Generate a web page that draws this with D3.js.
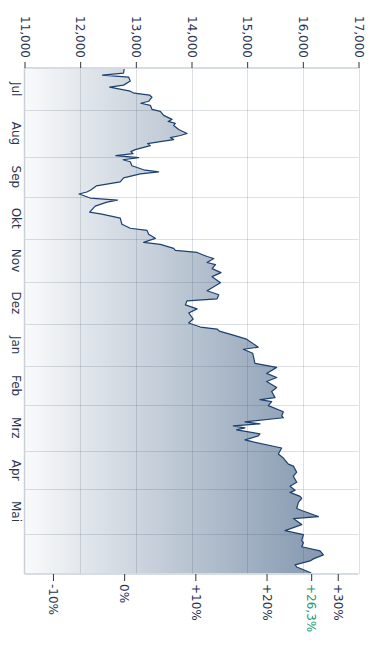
<!DOCTYPE html>
<html>
<head>
<meta charset="utf-8">
<script src="https://cdn.jsdelivr.net/npm/d3@7"></script>
<style>
  html, body { margin: 0; padding: 0; background: #ffffff; }
  svg { display: block; font-family: "DejaVu Sans", Verdana, sans-serif; }
</style>
</head>
<body>
<svg id="chart" width="370" height="650"></svg>
<script>
// ---------- data ----------
const months = ["Jul", "Aug", "Sep", "Okt", "Nov", "Dez", "Jan", "Feb", "Mrz", "Apr", "Mai", "Jun"];
const monthFirstDay = [0, 21, 44, 64, 85, 106, 127, 148, 167, 190, 209, 231];
const totalDays = 251;
const valueTicks = [11000, 12000, 13000, 14000, 15000, 16000, 17000];
const pctTicks = [-0.1, 0, 0.1, 0.2, 0.3];

const dayIndex = [
  0, 2, 3, 4, 6, 8, 9, 11, 12, 13, 14, 16, 17, 18, 20, 21, 23, 25, 26, 27,
  28, 30, 32, 33, 34, 35, 36, 37, 38, 40, 41, 42, 43, 44, 45, 46, 48, 50, 51, 52,
  54, 56, 58, 60, 61, 62, 64, 65, 66, 68, 71, 72, 74, 77, 79, 80, 82, 84, 86, 87,
  89, 90, 91, 93, 94, 96, 97, 99, 101, 103, 106, 109, 110, 112, 114, 115, 117, 119, 121, 124,
  126, 128, 129, 130, 132, 134, 138, 139, 141, 146, 148, 151, 153, 155, 158, 160, 163, 164, 165, 167,
  170, 172, 173, 175, 176, 177, 178, 179, 181, 182, 184, 185, 188, 191, 193, 196, 197, 200, 202, 205,
  207, 209, 210, 212, 213, 215, 218, 219, 222, 223, 226, 229, 231, 234, 235, 237, 239, 241, 243, 244,
  246, 247, 248, 250
];
const closeValues = [
  12790, 12780, 12400, 12870, 12900, 12780, 12530, 12900, 12970, 13250, 13290, 13230, 13090, 13260, 13290, 13440, 13500, 13650, 13580, 13710,
  13680, 13770, 13920, 13800, 13620, 13680, 13440, 13210, 13260, 12990, 12910, 12950, 12640, 13050, 12770, 12900, 12930, 13140, 13410, 13080,
  12780, 12720, 12290, 12190, 12120, 11980, 12180, 12670, 12480, 12270, 12170, 12390, 12720, 12750, 12900, 13200, 13230, 13350, 13140, 13440,
  13680, 13710, 14100, 14280, 14400, 14280, 14430, 14370, 14530, 14370, 14520, 14340, 14280, 14490, 14460, 13920, 13890, 14100, 13950, 14030,
  13950, 14160, 14460, 14500, 14750, 14990, 15200, 14930, 15100, 15140, 15530, 15350, 15530, 15350, 15530, 15440, 15500, 15230, 15440, 15380,
  15650, 15620, 15650, 14960, 15230, 14750, 14960, 14810, 15230, 15200, 14960, 15110, 15620, 15560, 15650, 15740, 15830, 15890, 15830, 15890,
  15770, 15860, 15770, 15950, 15980, 15920, 15890, 15980, 16280, 15830, 15980, 15680, 16010, 15980, 16010, 15980, 16310, 16370, 16190, 16130,
  15860, 15890, 15980, 16150
];

// ---------- setup ----------
const de = d3.formatLocale({ decimal: ",", thousands: ".", grouping: [3], currency: ["", " €"], minus: "-" });
const fmtValue = de.format(",.3f");
const fmtPct = de.format("+.0%");
const fmtPctLast = de.format("+.1%");

const data = dayIndex.map((d, i) => ({ day: d, value: closeValues[i] }));
const baseValue = closeValues[0];
const lastValue = closeValues[closeValues.length - 1];

const plotLeft = 24.5, plotRight = 358.5, plotTop = 68, plotBottom = 574;
const x = d3.scaleLinear().domain([valueTicks[0], valueTicks[valueTicks.length - 1]]).range([plotLeft, plotRight]);
const y = d3.scaleLinear().domain([-0.5, totalDays - 0.5]).range([plotTop, plotBottom]);

const svg = d3.select("#chart");
const textColor = "#2a3550";
const fontFamily = "DejaVu Sans, Verdana, sans-serif";

// gradient
const defs = svg.append("defs");
const grad = defs.append("linearGradient")
  .attr("id", "areaGrad").attr("gradientUnits", "userSpaceOnUse")
  .attr("x1", plotLeft).attr("x2", plotRight).attr("y1", 0).attr("y2", 0);
grad.append("stop").attr("offset", "0%").attr("stop-color", "#f9fafb");
grad.append("stop").attr("offset", "100%").attr("stop-color", "#768ca6");

// area
const area = d3.area()
  .y(d => y(d.day))
  .x0(x(valueTicks[0]))
  .x1(d => x(d.value));
svg.append("path").datum(data).attr("d", area).attr("fill", "url(#areaGrad)");

// grid
const grid = svg.append("g").attr("stroke", "rgba(40,60,90,0.16)").attr("stroke-width", 1);
grid.selectAll("line.v").data(valueTicks.slice(1)).join("line")
  .attr("x1", d => Math.round(x(d)) + 0.5).attr("x2", d => Math.round(x(d)) + 0.5)
  .attr("y1", plotTop).attr("y2", plotBottom);
grid.selectAll("line.h").data(monthFirstDay.slice(1)).join("line")
  .attr("x1", plotLeft).attr("x2", plotRight)
  .attr("y1", d => Math.round(y(d - 0.5)) + 0.5).attr("y2", d => Math.round(y(d - 0.5)) + 0.5);

// line
const line = d3.line().y(d => y(d.day)).x(d => x(d.value));
svg.append("path").datum(data).attr("d", line)
  .attr("fill", "none").attr("stroke", "#1c406f").attr("stroke-width", 1.2)
  .attr("stroke-linejoin", "round");

// frame
const frame = svg.append("g").attr("stroke", "#c9d0d8").attr("stroke-width", 1.5).attr("fill", "none");
frame.append("line").attr("x1", plotLeft).attr("x2", plotRight).attr("y1", plotTop).attr("y2", plotTop);
frame.append("line").attr("x1", plotLeft).attr("x2", plotRight).attr("y1", plotBottom).attr("y2", plotBottom);
frame.append("line").attr("x1", plotLeft).attr("x2", plotLeft).attr("y1", plotTop).attr("y2", plotBottom);

// top value axis
const topAxis = svg.append("g").attr("transform", `translate(0,${plotTop})`)
  .call(d3.axisTop(x).tickValues(valueTicks).tickSize(6).tickFormat(d => fmtValue(d / 1000)))
  .attr("font-family", fontFamily).attr("font-size", 12);
topAxis.select(".domain").remove();
topAxis.selectAll(".tick line").attr("stroke", "#333");
topAxis.selectAll(".tick text")
  .attr("x", -10).attr("y", 0).attr("dy", "0.36em")
  .attr("transform", "rotate(90)")
  .style("text-anchor", "end")
  .attr("fill", textColor);

// bottom percent axis
const pctEntries = pctTicks.map(p => ({ v: baseValue * (1 + p), label: p === 0 ? "0%" : fmtPct(p), color: textColor }));
pctEntries.push({ v: lastValue, label: fmtPctLast(lastValue / baseValue - 1), color: "#1f9b78" });
const botAxis = svg.append("g").attr("transform", `translate(0,${plotBottom})`)
  .call(d3.axisBottom(x).tickValues(pctEntries.map(e => e.v)).tickSize(7)
    .tickFormat((d, i) => pctEntries[i].label))
  .attr("font-family", fontFamily).attr("font-size", 12);
botAxis.select(".domain").remove();
botAxis.selectAll(".tick line").attr("stroke", "#333");
botAxis.selectAll(".tick text")
  .attr("x", 10).attr("y", 0).attr("dy", "0.36em")
  .attr("transform", "rotate(90)")
  .style("text-anchor", "start")
  .attr("fill", (d, i) => pctEntries[i].color);

// month labels (complete months only)
const monthLabels = months.map((m, i) => ({ m, start: monthFirstDay[i], end: monthFirstDay[i + 1] }))
  .filter(d => d.end !== undefined);
svg.append("g").attr("font-family", fontFamily).selectAll("text").data(monthLabels).join("text")
  .attr("transform", d => `translate(12,${(y(d.start - 0.5) + y(d.end - 0.5)) / 2}) rotate(90)`)
  .attr("text-anchor", "middle")
  .attr("font-size", 12)
  .attr("fill", textColor)
  .text(d => d.m);
</script>
</body>
</html>
